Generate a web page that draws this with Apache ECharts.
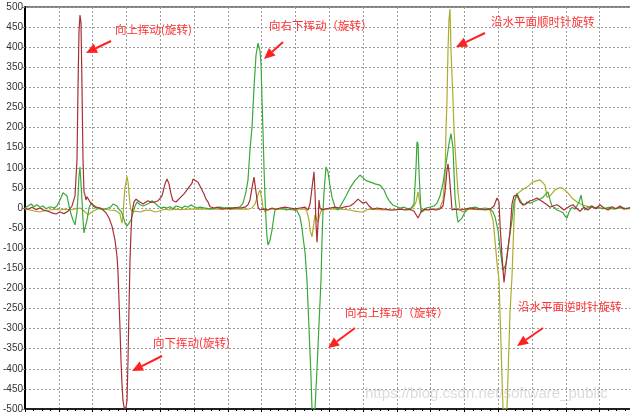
<!DOCTYPE html>
<html><head><meta charset="utf-8">
<script src="https://cdn.jsdelivr.net/npm/echarts@6/dist/echarts.min.js"></script>
<style>html,body{margin:0;padding:0;background:#fff}#c{width:630px;height:413px}</style>
</head><body><div id="c"></div>
<script>
// sample index (x) and angular rate value (y)
const yTicks = { min: -500, max: 500, step: 50 };
const xRange = { min: 0, max: 608.4, step: 33.8 };

const redSeries = [[0,0],[3,-3],[7,2],[11,-4],[15,0],[19,-6],[23,-8],[27,-12],[31,-15],[35,-10],[39,-14],[43,-8],[47,5],[50,30],[52,120],[53,300],[54,440],[55,480],[56,460],[57,300],[58,120],[59,40],[60,32],[61,20],[62,28],[63,25],[65,15],[68,8],[71,2],[75,0],[78,-5],[81,-12],[84,-25],[87,-45],[90,-80],[92,-120],[93,-160],[94,-230],[95,-300],[96,-380],[97,-440],[98,-480],[99,-495],[100,-500],[101,-495],[102,-480],[103,-380],[104,-250],[105,-130],[106,-60],[107,-10],[109,15],[111,22],[113,18],[115,15],[118,10],[120,12],[123,18],[126,14],[130,15],[133,18],[137,30],[140,60],[142,72],[144,60],[146,35],[148,18],[151,15],[155,25],[159,35],[162,45],[165,55],[167,62],[168,72],[170,68],[173,64],[175,60],[177,45],[179,35],[181,22],[183,15],[185,3],[189,0],[193,2],[197,-3],[201,0],[205,-2],[210,1],[215,0],[220,2],[223,8],[225,20],[227,50],[229,77],[231,40],[233,2],[235,-5],[237,-8],[239,-2],[243,-5],[247,0],[251,-3],[255,0],[260,2],[265,0],[270,-2],[275,0],[280,2],[283,-5],[285,10],[287,50],[289,90],[290,40],[291,-40],[292,-85],[293,-40],[294,20],[295,0],[297,-5],[301,-2],[305,0],[310,2],[315,0],[320,3],[325,5],[329,12],[333,22],[335,20],[338,12],[341,15],[344,5],[348,-3],[352,0],[357,-2],[361,-3],[365,-5],[370,-5],[375,-3],[380,-5],[385,-3],[389,-8],[393,-25],[396,-10],[399,-3],[403,-5],[407,-3],[411,-5],[415,-2],[418,5],[420,40],[422,95],[423,110],[424,90],[426,30],[427,-5],[430,-3],[435,-5],[440,-3],[445,0],[450,-2],[455,-3],[460,-5],[465,-3],[469,5],[472,25],[474,15],[475,-40],[477,-120],[479,-185],[481,-140],[483,-100],[485,-60],[487,10],[489,30],[492,32],[495,15],[498,7],[502,12],[505,18],[508,20],[512,25],[515,20],[518,15],[522,8],[525,2],[528,5],[532,8],[535,3],[539,-5],[542,0],[545,5],[548,8],[551,0],[555,-8],[559,2],[563,-5],[567,5],[571,-2],[575,8],[579,0],[583,-5],[587,3],[591,-2],[595,5],[599,-3],[603,0],[608,2]];

const greenSeries = [[0,0],[3,5],[6,10],[9,3],[12,8],[15,2],[18,5],[21,-2],[25,3],[29,0],[32,5],[35,20],[38,38],[40,40],[42,30],[44,5],[46,-15],[48,-30],[50,-42],[52,-10],[53,30],[54,80],[55,102],[56,60],[57,20],[58,-30],[59,-62],[60,-50],[62,-30],[64,0],[66,12],[68,5],[71,0],[75,-2],[79,-3],[83,0],[86,3],[88,10],[90,12],[92,5],[94,-3],[96,-8],[98,-20],[100,-37],[102,-45],[104,-47],[106,-30],[108,-12],[110,5],[112,15],[115,8],[118,5],[121,8],[124,12],[127,18],[130,12],[133,5],[136,0],[139,2],[142,0],[145,3],[148,-2],[151,5],[154,3],[157,0],[160,5],[163,2],[166,8],[169,3],[172,0],[175,2],[180,0],[185,-2],[190,0],[195,2],[200,0],[205,1],[210,0],[215,3],[218,12],[221,40],[223,70],[225,145],[227,200],[229,300],[231,380],[233,410],[235,390],[236,360],[237,270],[238,190],[239,100],[240,27],[241,-30],[242,-72],[243,-92],[245,-80],[247,-55],[249,-20],[250,-5],[253,-2],[257,0],[261,-5],[265,-3],[269,-5],[272,-7],[275,-22],[277,-50],[278,-72],[280,-110],[282,-180],[284,-300],[286,-420],[287,-500],[290,-500],[292,-400],[294,-290],[296,-179],[297,-80],[298,-10],[299,40],[301,102],[303,90],[305,55],[307,27],[310,2],[313,-5],[317,12],[321,30],[325,50],[330,68],[335,82],[338,75],[341,68],[345,65],[350,60],[355,57],[359,45],[362,27],[365,15],[368,7],[372,3],[375,0],[379,2],[383,-2],[386,0],[389,10],[391,100],[392,165],[393,160],[394,90],[396,-10],[398,-5],[401,0],[405,2],[409,5],[412,12],[415,30],[418,62],[421,110],[424,160],[426,185],[428,150],[430,27],[432,-20],[433,-35],[435,-30],[437,-25],[440,-10],[442,-5],[445,0],[450,2],[455,-2],[460,0],[465,-2],[468,-10],[470,-22],[473,-55],[475,-100],[478,-155],[481,-140],[484,-80],[487,-30],[489,15],[492,37],[494,25],[497,12],[500,8],[502,15],[505,12],[508,15],[512,20],[515,22],[518,27],[521,35],[523,40],[525,20],[527,5],[530,0],[532,-5],[535,-8],[538,-12],[540,-20],[542,-25],[544,-10],[547,2],[550,-3],[552,0],[554,15],[556,32],[558,5],[560,-5],[563,2],[566,5],[569,0],[573,3],[577,-2],[581,0],[585,2],[589,-3],[593,0],[597,2],[601,-2],[608,0]];

const oliveSeries = [[0,-3],[5,-5],[10,-8],[15,-10],[20,-6],[25,-5],[30,-3],[35,-5],[40,-3],[45,-5],[50,-2],[55,0],[58,-5],[61,-12],[63,-17],[65,-14],[68,-8],[72,-3],[75,0],[80,-3],[85,-5],[90,-6],[93,-10],[95,-15],[97,-38],[98,-20],[99,20],[100,50],[102,78],[103,65],[104,37],[105,10],[106,-5],[108,-10],[111,-8],[115,-10],[120,-6],[125,-5],[130,-10],[133,-8],[137,-5],[141,-3],[145,-5],[150,-3],[155,-4],[165,-3],[175,-2],[185,-3],[195,-2],[205,-3],[215,-2],[223,-3],[227,0],[230,10],[232,25],[234,40],[235,45],[237,20],[238,0],[240,-10],[242,-5],[245,-3],[255,-2],[265,-4],[275,-3],[280,-2],[282,-10],[284,-30],[285,-55],[287,-72],[289,-35],[290,-17],[292,-30],[293,-35],[295,-15],[297,-2],[300,-3],[305,-2],[315,-3],[325,-5],[330,-8],[335,-10],[338,-10],[341,-5],[345,-3],[355,-4],[365,-5],[375,-3],[385,-5],[389,5],[391,15],[393,40],[395,10],[397,-10],[400,-5],[405,-4],[411,-2],[415,0],[418,20],[420,80],[421,194],[422,269],[423,393],[424,470],[425,495],[426,393],[427,330],[428,269],[429,194],[431,112],[433,40],[435,-5],[438,-10],[441,-5],[445,-3],[455,-4],[462,-3],[465,-5],[468,-30],[470,-80],[472,-137],[474,-179],[476,-340],[478,-500],[482,-500],[485,-260],[487,-170],[488,-100],[489,-30],[490,20],[493,37],[497,45],[502,52],[508,65],[515,70],[520,57],[522,27],[525,30],[530,45],[534,50],[537,50],[542,40],[547,25],[552,15],[558,7],[565,2],[575,0],[585,-2],[595,0],[608,-2]];

const seriesNames = ['X', 'Y', 'Z'];
const annotations = [
  { text: '向上挥动(旋转)', x: 115, y: 32, from: [111, 41], to: [86, 53] },
  { text: '向右下挥动（旋转）', x: 269, y: 28, from: [283, 42], to: [264, 59] },
  { text: '沿水平面顺时针旋转', x: 491, y: 24, from: [485, 33], to: [456, 47] },
  { text: '向下挥动(旋转)', x: 153, y: 345, from: [162, 356], to: [132, 371] },
  { text: '向右上挥动（旋转）', x: 345, y: 315, from: [355, 328], to: [328, 348] },
  { text: '沿水平面逆时针旋转', x: 518, y: 309, from: [543, 328], to: [517, 346] }
];

function arrow(a) {
  const [x1, y1] = a.from, [x2, y2] = a.to;
  const ang = Math.atan2(y2 - y1, x2 - x1);
  const L = 11, W = 5;
  const bx = x2 - L * Math.cos(ang), by = y2 - L * Math.sin(ang);
  const px = -Math.sin(ang) * W, py = Math.cos(ang) * W;
  return [
    { type: 'line', shape: { x1: x1, y1: y1, x2: bx, y2: by }, style: { stroke: '#ff2020', lineWidth: 2 }, z: 100 },
    { type: 'polygon', shape: { points: [[x2, y2], [bx + px, by + py], [bx - px, by - py]] }, style: { fill: '#ff2020' }, z: 100 },
    { type: 'text', left: a.x, top: a.y - 8, style: { text: a.text, fill: '#ff3030', font: '11.5px "Noto Sans CJK SC"' }, z: 100 }
  ];
}

const graphics = [];
annotations.forEach(a => graphics.push(...arrow(a)));
graphics.push({ type: 'text', left: 365, top: 386, style: { text: 'https://blog.csdn.net/software_public', fill: 'rgba(190,190,190,0.55)', font: '15px "Liberation Sans"' }, z: 90 });

const chart = echarts.init(document.getElementById('c'), null, { renderer: 'canvas' });
const gridLine = { show: true, lineStyle: { color: '#9a9a9a', type: [2, 2], width: 1 } };
chart.setOption({
  animation: false,
  grid: { left: 25, top: 7, width: 608.4, height: 402, containLabel: false, outerBoundsMode: 'none', show: true, borderColor: '#000', borderWidth: 1, backgroundColor: 'transparent' },
  xAxis: {
    type: 'value', min: xRange.min, max: xRange.max, interval: xRange.step,
    axisLabel: { show: false },
    axisLine: { show: true, onZero: false, lineStyle: { color: '#000', width: 1.5 } },
    axisTick: { show: true, length: 3, lineStyle: { color: '#000' } },
    minorTick: { show: true, splitNumber: 4, length: 2, lineStyle: { color: '#000' } },
    splitLine: gridLine
  },
  yAxis: {
    type: 'value', min: yTicks.min, max: yTicks.max, interval: yTicks.step,
    name: '(°/s)', nameLocation: 'middle', nameGap: 28, nameRotate: 90,
    nameTextStyle: { fontSize: 10, color: '#333', fontFamily: 'Liberation Sans' },
    axisLine: { show: true, lineStyle: { color: '#000', width: 2 } },
    axisTick: { show: true, length: 3, lineStyle: { color: '#888' } },
    axisLabel: { fontSize: 10, color: '#333', margin: 2, fontFamily: 'Liberation Sans' },
    splitLine: gridLine
  },
  series: [
    { name: seriesNames[2], type: 'line', data: oliveSeries, showSymbol: false, symbol: 'none', lineStyle: { color: '#acac2c', width: 1.2 }, z: 2 },
    { name: seriesNames[1], type: 'line', data: greenSeries, showSymbol: false, symbol: 'none', lineStyle: { color: '#3aa83a', width: 1.2 }, z: 3 },
    { name: seriesNames[0], type: 'line', data: redSeries, showSymbol: false, symbol: 'none', lineStyle: { color: '#a83034', width: 1.2 }, z: 4 }
  ],
  graphic: graphics
});
</script>
</body></html>
